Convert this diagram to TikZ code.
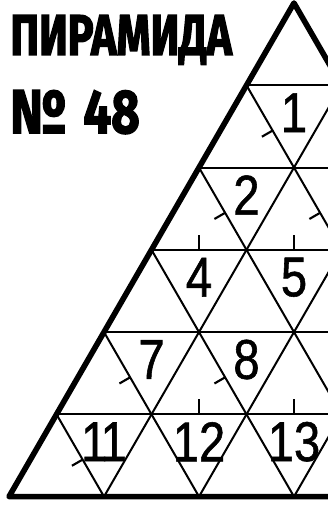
\documentclass[tikz,border=0pt]{standalone}
\usepackage{fontspec}
\setmainfont{Liberation Sans}
\newfontfamily\titlefont{Fira Sans}[BoldFeatures={FakeBold=2.5}]
\newfontfamily\cellfont{Liberation Sans}[FakeBold=1, FakeStretch=0.84]

\begin{document}
\begin{tikzpicture}[x=2.5cm, y=2.5cm,
    gridLine/.style={line width=1.5pt},
    outline/.style={line width=4.2pt, line join=round},
    tickMark/.style={line width=1.6pt},
    cellNum/.style={font=\cellfont\fontsize{42}{42}\selectfont, inner sep=0pt}]
    \definecolor{borderColour}{HTML}{000000}

    \def\rowH{0.866}
    \def\tickLen{0.13}

    % Fix the frame
    \useasboundingbox (-3.095,0.032) rectangle (0.358,-5.316);
    \clip (-3.095,0.032) rectangle (0.358,-5.316);

    % Draw title
    \node[anchor=base west, inner sep=0pt] (title) at (-2.989,-0.547)
        {\resizebox{166pt}{29.8pt}{\titlefont\bfseries ПИРАМИДА}};
    \node[anchor=base west, inner sep=0pt] (number) at (-2.989,-1.368)
        {\resizebox{97pt}{32pt}{\titlefont\bfseries №\kern0.35em 48}};

    % Define corners of the pyramid
    \coordinate (T) at (0,0);
    \coordinate (L) at (-3,-6*\rowH);
    \coordinate (R) at (3,-6*\rowH);

    % Draw grid lines
    \foreach \k in {1,...,5} {
        \draw[gridLine, draw=borderColour] (-\k/2,-\k*\rowH) -- (\k/2,-\k*\rowH);
        \draw[gridLine, draw=borderColour] (\k/2,-\k*\rowH) -- (\k-3,-6*\rowH);
        \draw[gridLine, draw=borderColour] (-\k/2,-\k*\rowH) -- (3-\k,-6*\rowH);
    }

    % Draw outline
    \draw[outline, draw=borderColour] (T) -- (L) -- (R) -- cycle;

    % Number the inverted cells
    \foreach \r/\i/\n in {2/1/1, 3/1/2, 4/1/4, 4/2/5, 5/1/7, 5/2/8, 6/2/12, 6/3/13}
        \node[cellNum] (c\n) at (\i-\r/2, -\r*\rowH+2/3*\rowH) {\n};
    \node[cellNum] (c11) at (-2, -6*\rowH+2/3*\rowH) {1\kern-0.12em1};

    % Mark ticks on slanted edges
    \foreach \r/\a in {2/-0.5, 3/-1, 3/0, 5/-2, 5/-1, 6/-2.5}
        \draw[tickMark] (\a+0.275, -\r*\rowH+0.45*\rowH) -- ++(210:\tickLen);

    % Mark ticks on horizontal edges
    \foreach \r/\x in {3/-1, 3/0, 5/-1, 5/0}
        \draw[tickMark] (\x,-\r*\rowH) -- ++(0,0.16);

\end{tikzpicture}
\end{document}
